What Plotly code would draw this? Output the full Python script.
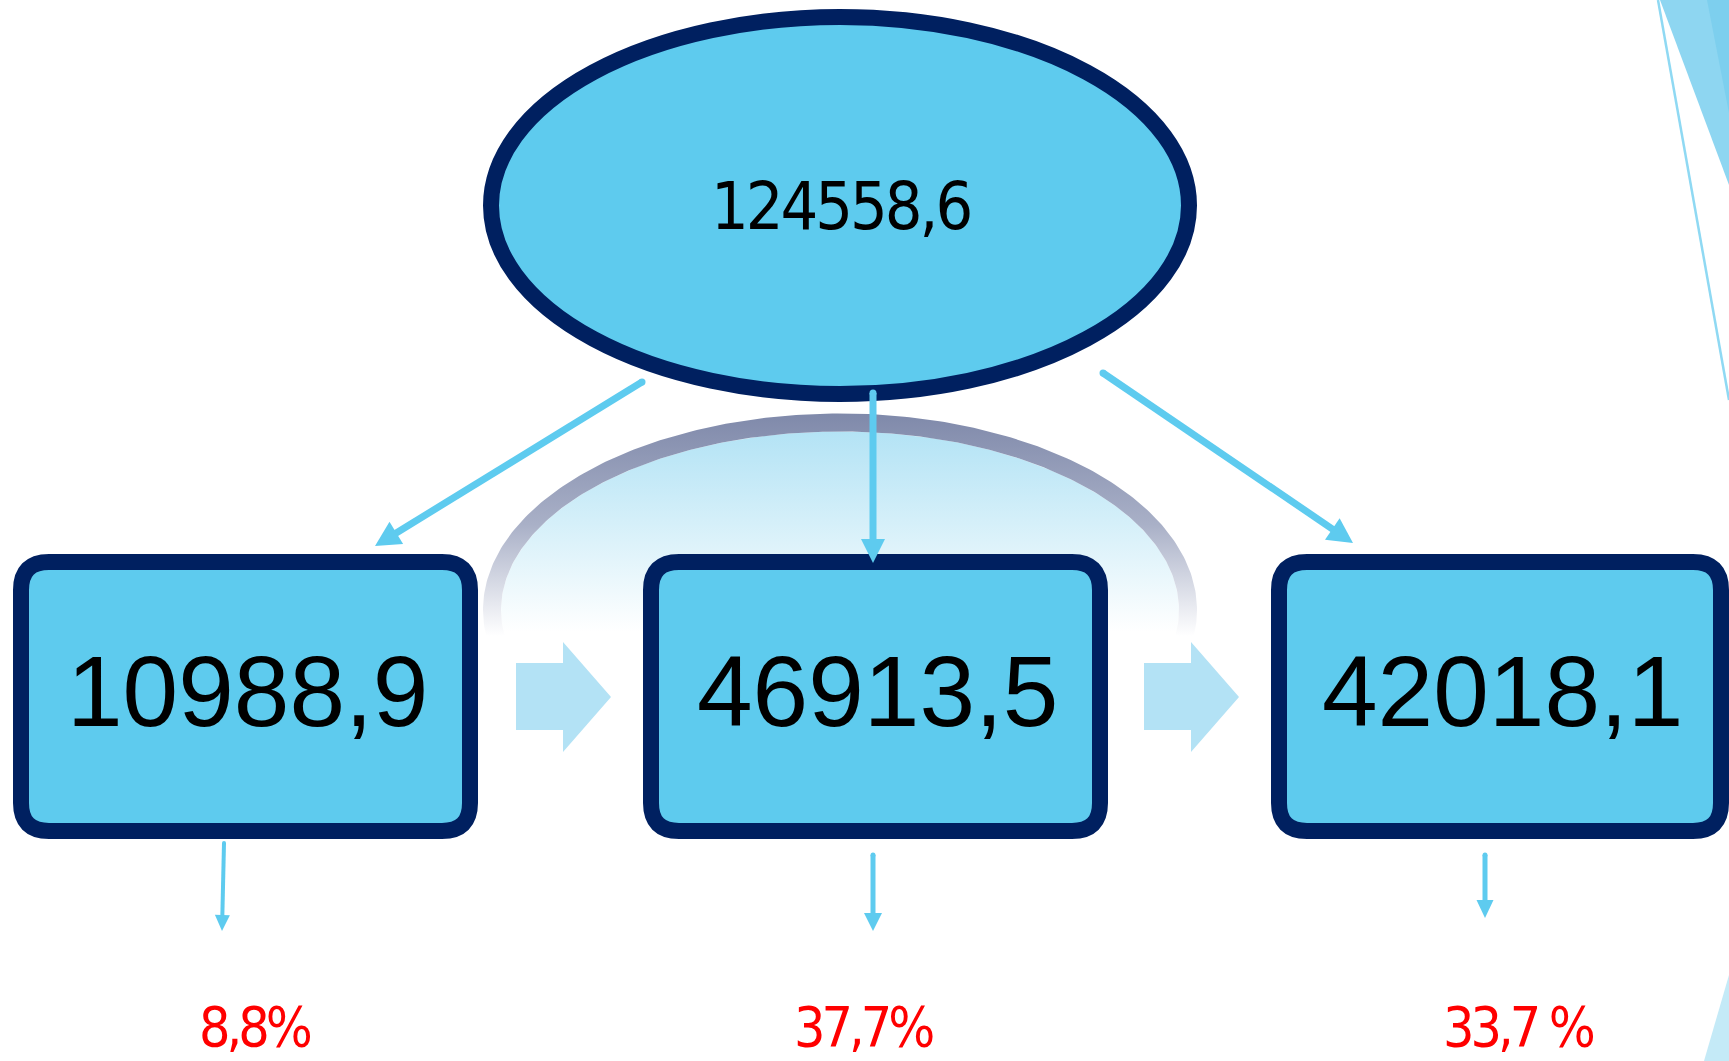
import numpy as np
import plotly.graph_objects as go

# ---------------- data ----------------
total_value = 124558.6
part_values = [10988.9, 46913.5, 42018.1]
share_labels = ["8,8%", "37,7%", "33,7 %"]

def fmt(v):
    return f"{v:.1f}".replace(".", ",")

# ---------------- layout geometry (pixels) ----------------
W, H = 1729, 1061
NAVY = "#002060"
BOXFILL = "#5ecbee"
ARROW = "#5ecbef"
CHEV = "#b3e2f5"

box_x = [(13, 478), (643, 1108), (1271, 1729)]
box_y = (554, 839)
border = 16
ell_cx, ell_cy, ell_rx, ell_ry = 840, 205.5, 357, 196.5
arc_cy = 610
arc_w = 18

fig = go.Figure()

# background arc (gradient band + gradient fill)
delta = 0.16
t = np.linspace(np.pi + delta, -delta, 240)
ox = ell_cx + ell_rx * np.cos(t)
oy = arc_cy - ell_ry * np.sin(t)
ix = ell_cx + (ell_rx - arc_w) * np.cos(t[::-1])
iy = arc_cy - (ell_ry - arc_w) * np.sin(t[::-1])
fig.add_trace(go.Scatter(
    x=list(ix), y=list(iy), mode="lines", line=dict(width=0),
    fill="toself", fillgradient=dict(type="vertical",
        colorscale=[[0, "#b3e3f5"], [0.55, "#dcf2fa"], [1, "#ffffff"]], start=431, stop=632),
    hoverinfo="skip", showlegend=False))
fig.add_trace(go.Scatter(
    x=list(ox) + list(ix), y=list(oy) + list(iy), mode="lines", line=dict(width=0),
    fill="toself", fillgradient=dict(type="vertical",
        colorscale=[[0, "#7f89aa"], [0.5, "#a9b0c7"], [1, "#ffffff"]], start=413, stop=636),
    hoverinfo="skip", showlegend=False))

shapes = []

def rrect(x0, y0, x1, y1, r):
    return (f"M{x0+r},{y0} L{x1-r},{y0} Q{x1},{y0} {x1},{y0+r} L{x1},{y1-r} "
            f"Q{x1},{y1} {x1-r},{y1} L{x0+r},{y1} Q{x0},{y1} {x0},{y1-r} "
            f"L{x0},{y0+r} Q{x0},{y0} {x0+r},{y0} Z")

def poly(pts):
    return "M" + " L".join(f"{x},{y}" for x, y in pts) + " Z"

# decorative triangles on the right edge
shapes.append(dict(type="path", path=poly([(1660, 0), (1729, 0), (1729, 185)]),
                   fillcolor="#8ed6f1", line=dict(width=0), layer="above"))
shapes.append(dict(type="path", path=poly([(1707, 0), (1729, 0), (1729, 113)]),
                   fillcolor="#7dcfee", line=dict(width=0), layer="above"))
shapes.append(dict(type="line", x0=1658, y0=0, x1=1729, y1=400,
                   line=dict(color="#8fd9f3", width=2.5), layer="above"))
shapes.append(dict(type="path", path=poly([(1729, 975), (1729, 1061), (1704, 1061)]),
                   fillcolor="#c4eaf7", line=dict(width=0), layer="above"))

# ellipse
h = border / 2
shapes.append(dict(type="circle", x0=ell_cx - ell_rx + h, x1=ell_cx + ell_rx - h,
                   y0=ell_cy - ell_ry + h, y1=ell_cy + ell_ry - h,
                   fillcolor=BOXFILL, line=dict(color=NAVY, width=border), layer="above"))

# boxes
for (x0, x1) in box_x:
    shapes.append(dict(type="path", path=rrect(x0 + h, box_y[0] + h, x1 - h, box_y[1] - h, 28),
                       fillcolor=BOXFILL, line=dict(color=NAVY, width=border), layer="above"))

# chevrons between boxes
for off in (0, 628):
    pts = [(516 + off, 663), (563 + off, 663), (563 + off, 642), (611 + off, 697),
           (563 + off, 752), (563 + off, 730), (516 + off, 730)]
    shapes.append(dict(type="path", path=poly(pts), fillcolor=CHEV,
                       line=dict(width=0), layer="above"))

# connector arrows: tail, tip, width, head length, head width
arrows = [
    ((642, 382), (375, 546), 7, 25, 26),
    ((873, 393), (873, 563), 7, 24, 24),
    ((1103, 373), (1353, 543), 7, 25, 26),
    ((224, 843), (222, 931), 4, 16, 15),
    ((873, 855), (873, 931), 5, 18, 18),
    ((1485, 855), (1485, 918), 5, 18, 17),
]
for (tx, ty), (hx, hy), w, L, Wd in arrows:
    d = np.array([hx - tx, hy - ty], float)
    u = d / np.linalg.norm(d)
    p = np.array([-u[1], u[0]])
    base = np.array([hx, hy]) - u * L
    shapes.append(dict(type="line", x0=tx, y0=ty, x1=base[0] + u[0] * 2, y1=base[1] + u[1] * 2,
                       line=dict(color=ARROW, width=w), layer="above"))
    shapes.append(dict(type="circle", x0=tx - w / 2, x1=tx + w / 2, y0=ty - w / 2, y1=ty + w / 2,
                       fillcolor=ARROW, line=dict(width=0), layer="above"))
    b1 = base + p * Wd / 2
    b2 = base - p * Wd / 2
    shapes.append(dict(type="path", path=poly([(hx, hy), (b1[0], b1[1]), (b2[0], b2[1])]),
                       fillcolor=ARROW, line=dict(width=0), layer="above"))

annotations = []
NARROW = "Liberation Sans Narrow, DejaVu Sans Condensed, Arial Narrow, sans-serif"

def tight(s, px):
    return f'<span style="letter-spacing:{px}px">{s}</span>'

annotations.append(dict(x=ell_cx, y=206, text=tight(fmt(total_value), -3), showarrow=False,
                        xanchor="center", yanchor="middle",
                        font=dict(family=NARROW, size=66, color="#000000")))
for (x0, x1), v in zip(box_x, part_values):
    annotations.append(dict(x=(x0 + x1) / 2 + 2, y=691, text=fmt(v), showarrow=False,
                            xanchor="center", yanchor="middle",
                            font=dict(family="Liberation Sans, Arial, sans-serif", size=100,
                                      color="#000000")))
for cx, lab in zip([255, 863, 1518], share_labels):
    annotations.append(dict(x=cx, y=1027, text=tight(lab, -4), showarrow=False,
                            xanchor="center", yanchor="middle",
                            font=dict(family=NARROW, size=55, color="#ff0000")))

fig.update_layout(
    width=W, height=H, autosize=False,
    margin=dict(l=0, r=0, t=0, b=0),
    paper_bgcolor="#ffffff", plot_bgcolor="#ffffff",
    xaxis=dict(range=[0, W], visible=False, fixedrange=True),
    yaxis=dict(range=[H, 0], visible=False, fixedrange=True),
    shapes=shapes, annotations=annotations, showlegend=False,
)

fig.write_html("out.html", config={"displayModeBar": False},
               post_script="document.body.style.margin='0';document.body.style.overflow='hidden';")
